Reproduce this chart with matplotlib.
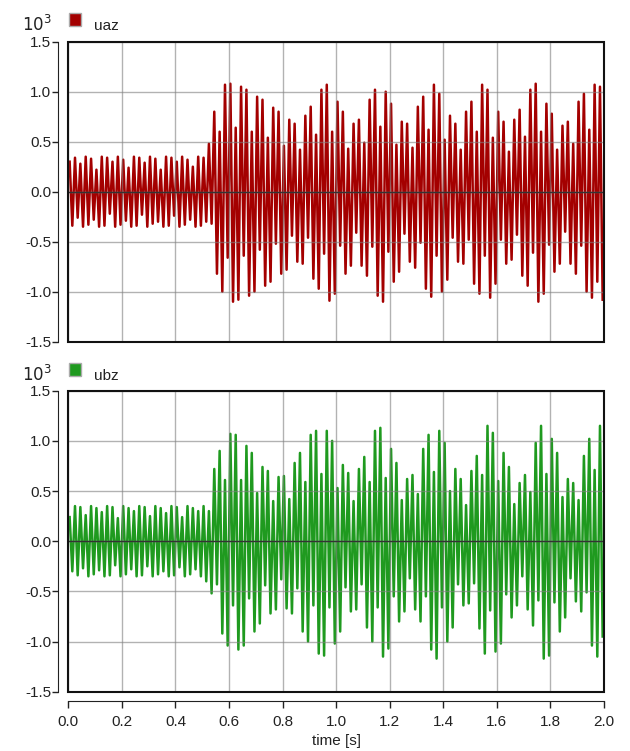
import numpy as np
import matplotlib.pyplot as plt
from matplotlib.patches import Rectangle

plt.rcParams['font.family'] = ['Liberation Sans', 'DejaVu Sans']
plt.rcParams['axes.unicode_minus'] = False

# one cycle of the 50 Hz signal every 20 ms, peaks (x 10^3)
period = 0.02

uaz_hi = [0.30, 0.34, 0.28, 0.35, 0.33, 0.22, 0.35, 0.34, 0.30, 0.35,
          0.32, 0.24, 0.35, 0.34, 0.29, 0.35, 0.33, 0.22, 0.35, 0.34,
          0.30, 0.35, 0.32, 0.25, 0.35, 0.34, 0.48, 0.80, 0.60, 1.07,
          1.08, 0.64, 1.05, 1.02, 0.60, 0.95, 0.92, 0.54, 0.84, 0.80,
          0.46, 0.72, 0.68, 0.42, 0.76, 0.85, 0.57, 1.02, 1.07, 0.60,
          0.90, 0.80, 0.43, 0.68, 0.72, 0.49, 0.92, 1.02, 0.65, 1.00,
          0.88, 0.47, 0.70, 0.68, 0.44, 0.85, 0.95, 0.62, 1.07, 0.98,
          0.52, 0.76, 0.68, 0.42, 0.80, 0.90, 0.60, 1.07, 1.02, 0.54,
          0.80, 0.70, 0.40, 0.72, 0.82, 0.55, 1.02, 1.08, 0.60, 0.88,
          0.78, 0.42, 0.66, 0.70, 0.48, 0.90, 0.98, 0.62, 1.07, 1.05]
uaz_lo = [-0.34, -0.26, -0.35, -0.33, -0.28, -0.35, -0.34, -0.22, -0.35, -0.33,
          -0.29, -0.35, -0.34, -0.23, -0.35, -0.32, -0.30, -0.35, -0.34, -0.24,
          -0.35, -0.33, -0.28, -0.35, -0.34, -0.30, -0.32, -0.82, -1.00, -0.66,
          -1.10, -1.08, -0.64, -1.04, -1.00, -0.58, -0.94, -0.90, -0.52, -0.82,
          -0.78, -0.44, -0.70, -0.72, -0.46, -0.87, -0.97, -0.62, -1.09, -1.02,
          -0.54, -0.82, -0.74, -0.41, -0.74, -0.84, -0.55, -1.04, -1.10, -0.60,
          -0.90, -0.80, -0.42, -0.70, -0.76, -0.51, -0.97, -1.05, -0.64, -1.00,
          -0.88, -0.46, -0.70, -0.72, -0.48, -0.92, -1.02, -0.64, -1.06, -0.92,
          -0.48, -0.72, -0.68, -0.43, -0.84, -0.94, -0.61, -1.10, -1.02, -0.53,
          -0.80, -0.72, -0.40, -0.72, -0.82, -0.54, -1.00, -1.06, -0.90, -1.08]

ubz_hi = [0.24, 0.35, 0.34, 0.26, 0.35, 0.33, 0.29, 0.35, 0.34, 0.23,
          0.35, 0.33, 0.30, 0.35, 0.34, 0.25, 0.35, 0.33, 0.28, 0.35,
          0.34, 0.24, 0.35, 0.33, 0.30, 0.35, 0.30, 0.72, 0.90, 0.61,
          1.07, 1.06, 0.61, 0.95, 0.88, 0.48, 0.74, 0.70, 0.40, 0.64,
          0.65, 0.42, 0.78, 0.88, 0.59, 1.06, 1.10, 0.67, 1.10, 1.00,
          0.53, 0.76, 0.68, 0.40, 0.72, 0.84, 0.59, 1.10, 1.13, 0.63,
          0.92, 0.78, 0.41, 0.62, 0.66, 0.47, 0.92, 1.06, 0.69, 1.10,
          0.98, 0.50, 0.72, 0.62, 0.36, 0.70, 0.85, 0.66, 1.15, 1.08,
          0.60, 0.88, 0.74, 0.37, 0.58, 0.66, 0.49, 0.98, 1.15, 0.67,
          1.02, 0.88, 0.44, 0.62, 0.58, 0.41, 0.85, 1.02, 0.71, 1.15]
ubz_lo = [-0.30, -0.34, -0.27, -0.35, -0.33, -0.29, -0.35, -0.34, -0.24, -0.35,
          -0.33, -0.28, -0.35, -0.34, -0.25, -0.35, -0.33, -0.30, -0.35, -0.34,
          -0.26, -0.35, -0.33, -0.28, -0.35, -0.40, -0.52, -0.43, -0.92, -1.04,
          -0.64, -1.08, -1.04, -0.57, -0.90, -0.82, -0.44, -0.72, -0.68, -0.38,
          -0.67, -0.72, -0.47, -0.90, -1.00, -0.64, -1.12, -1.14, -0.66, -1.02,
          -0.90, -0.46, -0.70, -0.68, -0.43, -0.86, -1.00, -0.66, -1.15, -1.07,
          -0.55, -0.80, -0.70, -0.37, -0.68, -0.80, -0.55, -1.08, -1.17, -0.66,
          -1.00, -0.86, -0.43, -0.64, -0.62, -0.42, -0.87, -1.12, -0.69, -1.10,
          -1.02, -0.53, -0.76, -0.64, -0.35, -0.68, -0.84, -0.59, -1.17, -1.14,
          -0.61, -0.90, -0.76, -0.37, -0.60, -0.70, -0.51, -1.04, -1.15, -0.95]

x_ticks = [0.0, 0.2, 0.4, 0.6, 0.8, 1.0, 1.2, 1.4, 1.6, 1.8, 2.0]
y_ticks = [-1.5, -1.0, -0.5, 0.0, 0.5, 1.0, 1.5]


def samples(hi, lo):
    k = np.arange(len(hi))
    t = np.empty(2 * len(hi))
    y = np.empty(2 * len(hi))
    t[0::2] = k * period + period / 4
    t[1::2] = k * period + 3 * period / 4
    y[0::2] = hi
    y[1::2] = lo
    return t, y


W, H = 630, 751
fig = plt.figure(figsize=(W / 100, H / 100), dpi=100)
ax1 = fig.add_axes([68.3 / W, 1 - 341.7 / H, 535.7 / W, 300 / H])
ax2 = fig.add_axes([68.3 / W, 1 - 691.7 / H, 535.7 / W, 301 / H])

panels = [(ax1, uaz_hi, uaz_lo, '#a40000', 'uaz', 31),
          (ax2, ubz_hi, ubz_lo, '#1f9a1f', 'ubz', 381)]

for ax, hi, lo, col, name, ybase in panels:
    t, y = samples(hi, lo)
    ax.plot(t, y, color=col, lw=1.8, zorder=2)
    ax.set_xlim(0, 2.0)
    ax.set_ylim(-1.5, 1.5)
    ax.set_xticks(x_ticks)
    ax.set_yticks(y_ticks)
    ax.set_yticklabels(['%.1f' % v for v in y_ticks])
    ax.grid(True, color='#808080', lw=1.0, alpha=0.6, zorder=3)
    ax.set_axisbelow(False)
    ax.axhline(0, color='#333333', lw=1.0, zorder=3)
    for s in ['top', 'right', 'bottom']:
        ax.spines[s].set_visible(False)
    ax.spines['left'].set_position(('outward', 7.2))
    ax.spines['left'].set_color('#222222')
    ax.tick_params(axis='y', direction='out', length=4, width=1,
                   colors='#222222', labelsize=11, pad=1)
    ax.add_patch(Rectangle((0, 0), 1, 1, transform=ax.transAxes, fill=False,
                           ec='#111111', lw=1.5, clip_on=False, zorder=4))
    # exponent and legend entry above each panel
    fig.text(22 / W, 1 - ybase / H, r'$10^3$', fontsize=12, va='baseline',
             color='#222222')
    fig.patches.append(Rectangle((69 / W, 1 - (ybase - 5) / H), 12 / W, 13 / H,
                                 transform=fig.transFigure, fc=col,
                                 ec='#aaaaaa', lw=1.0))
    fig.text(94 / W, 1 - (ybase - 1) / H, name, fontsize=11, va='baseline',
             color='#222222')

ax1.tick_params(axis='x', bottom=False, labelbottom=False)
ax2.spines['bottom'].set_visible(True)
ax2.spines['bottom'].set_position(('outward', 6.5))
ax2.spines['bottom'].set_color('#222222')
ax2.tick_params(axis='x', direction='out', length=5, width=1,
                colors='#222222', labelsize=11, pad=5)
ax2.set_xticklabels(['%.1f' % v for v in x_ticks])
ax2.set_xlabel('time [s]', fontsize=11, labelpad=4, color='#222222')

fig.savefig('out.png', dpi=100)
